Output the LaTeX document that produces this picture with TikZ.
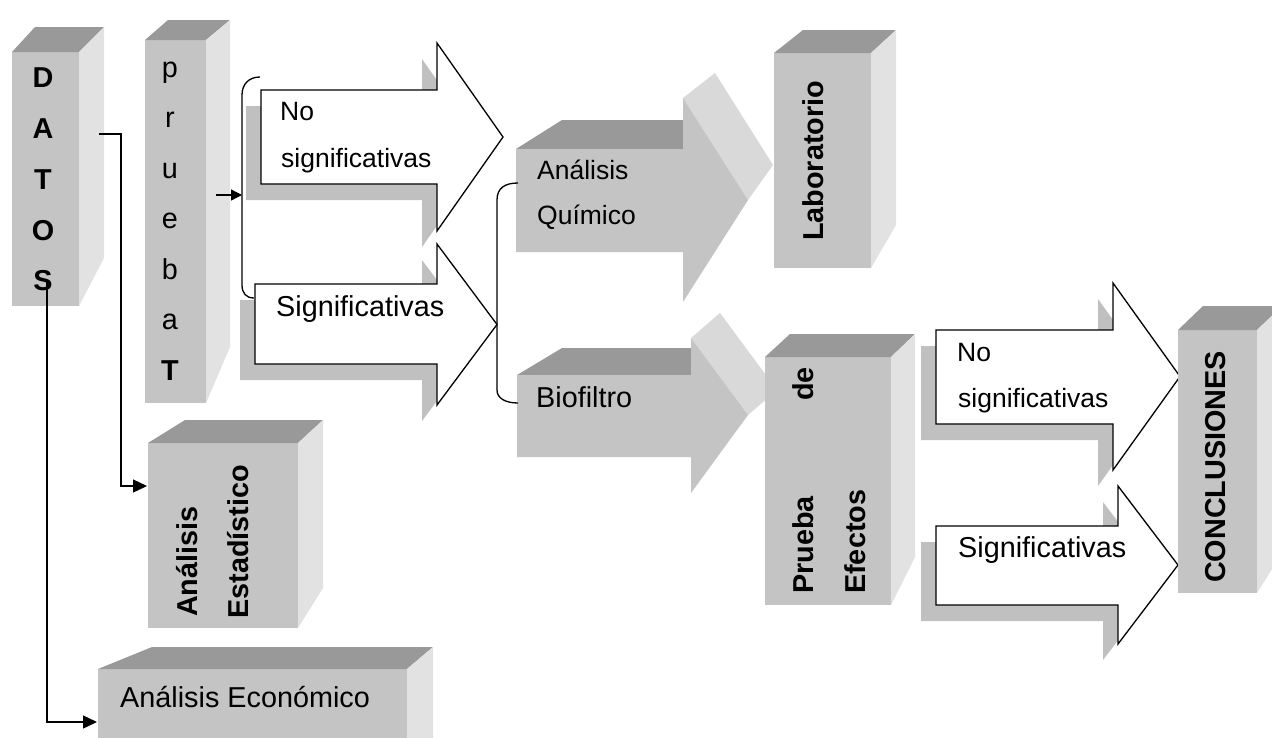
\documentclass[tikz,border=0pt]{standalone}
\usepackage{fontspec}
\setmainfont{Liberation Sans}
\usetikzlibrary{arrows.meta}
\definecolor{frontc}{HTML}{C4C4C4}
\definecolor{topc}{HTML}{999999}
\definecolor{sidec}{HTML}{E2E2E2}
\definecolor{headc}{HTML}{D9D9D9}
\definecolor{shadc}{HTML}{C0C0C0}
% #1 x1, #2 y1, #3 x2, #4 y2, #5 back-left x, #6 back-right x, #7 back y, #8 side bottom y
\newcommand{\tdbox}[8]{%
  \fill[frontc] (#1,#2) rectangle (#3,#4);
  \fill[topc] (#1,#2) -- (#5,#7) -- (#6,#7) -- (#3,#2) -- cycle;
  \fill[sidec] (#3,#2) -- (#6,#7) -- (#6,#8) -- (#3,#4) -- cycle;
}
% white block arrow with shadow: #1 body left, #2 body top, #3 body bottom, #4 head x, #5 head top, #6 head bottom, #7 tip x
\newcommand{\wharrow}[7]{%
  \fill[shadc,shift={(-15,16)}] (#1,#2) -- (#4,#2) -- (#4,#5) -- (#7,{(#5+#6)/2}) -- (#4,#6) -- (#4,#3) -- (#1,#3) -- cycle;
  \filldraw[fill=white,draw=black,line width=1.3pt,line join=miter] (#1,#2) -- (#4,#2) -- (#4,#5) -- (#7,{(#5+#6)/2}) -- (#4,#6) -- (#4,#3) -- (#1,#3) -- cycle;
}
\tikzset{
  lbl/.style={inner sep=0pt, font=\fontsize{28.8}{34}\selectfont},
  lbls/.style={inner sep=0pt, font=\fontsize{26.5}{32}\selectfont},
  lblb/.style={inner sep=0pt, font=\fontsize{28.8}{34}\selectfont\bfseries},
  conn/.style={line width=1.3pt},
  tip/.style={-{Triangle[length=14pt,width=13pt]}},
  tipsm/.style={-{Triangle[length=11pt,width=11pt]}},
}
\begin{document}
\begin{tikzpicture}[x=1pt,y=-1pt]
\useasboundingbox (0,0) rectangle (1272,737);
\fill[white] (0,0) rectangle (1272,737);
\clip (0,0) rectangle (1272,737);

% DATOS and prueba T boxes
\tdbox{12}{52}{79}{306}{35}{104}{27}{258}
\tdbox{145}{40}{206}{403}{168}{230}{20}{347}

% left white arrows
\wharrow{261}{90}{184}{437}{43}{231}{503}
\wharrow{255}{284}{364}{437}{244}{405}{497}

% gray 3D arrow: Analisis Quimico
\fill[topc] (516,149) -- (562,120) -- (683,120) -- (683,149) -- cycle;
\fill[headc] (683,98) -- (715,73) -- (773,165) -- (748,200) -- cycle;
\fill[frontc] (516,149) -- (683,149) -- (683,98) -- (748,200) -- (683,302) -- (683,252) -- (516,252) -- cycle;

% gray 3D arrow: Biofiltro
\fill[topc] (517,375) -- (562,348) -- (691,348) -- (691,375) -- cycle;
\fill[headc] (691,338) -- (720,313) -- (777,390) -- (748,415) -- cycle;
\fill[frontc] (517,375) -- (691,375) -- (691,338) -- (748,415) -- (691,493) -- (691,457) -- (517,457) -- cycle;

% Laboratorio, Prueba de Efectos
\tdbox{774}{53}{871}{268}{803}{896}{30}{225}
\tdbox{765}{357}{891}{605}{790}{915}{334}{557}

% Analisis Estadistico, Analisis Economico
\tdbox{148}{443}{298}{628}{185}{323}{420}{588}
\tdbox{98}{669}{407}{760}{152}{433}{647}{745}

% right white arrows
\wharrow{936}{330}{424}{1113}{283}{470}{1180}
\wharrow{936}{526}{605}{1118}{486}{644}{1178}

% CONCLUSIONES
\tdbox{1178}{330}{1257}{593}{1203}{1282}{306}{553}

% coordinates for connectors
\coordinate (b1top) at (260,77);
\coordinate (b1bot) at (254,298);
\coordinate (b1mid) at (242,195);
\coordinate (pruebaOut) at (216,195);
\coordinate (b2top) at (518,183);
\coordinate (b2bot) at (518,403);
\coordinate (datosOut) at (99,134);
\coordinate (estIn) at (147,486);
\coordinate (datosS) at (47,280);
\coordinate (ecoIn) at (97,722);

% braces
\draw[conn] (b1top) .. controls (249,77) and (242,84) .. (242,95) -- (242,285) .. controls (242,293) and (246,298) .. (b1bot);
\draw[conn] (b2top) .. controls (505,183) and (497,188) .. (497,200) -- (497,390) .. controls (497,398) and (505,403) .. (b2bot);

% connectors
\draw[conn,tipsm] (pruebaOut) -- (b1mid);
\draw[conn,tip] (datosOut) -- ++(22,0) |- (estIn);
\draw[conn,tip] (datosS) |- (ecoIn);

% DATOS letters
\node[lblb,anchor=base] (dD) at (43,87) {D};
\node[lblb,anchor=base] (dA) at (43,138) {A};
\node[lblb,anchor=base] (dT) at (43,189) {T};
\node[lblb,anchor=base] (dO) at (43,240) {O};
\node[lblb,anchor=base] (dS) at (43,290) {S};

% prueba T letters
\node[lbl,anchor=base] (p1) at (170,77) {p};
\node[lbl,anchor=base] (p2) at (170,127.5) {r};
\node[lbl,anchor=base] (p3) at (170,178) {u};
\node[lbl,anchor=base] (p4) at (170,228.5) {e};
\node[lbl,anchor=base] (p5) at (170,279) {b};
\node[lbl,anchor=base] (p6) at (170,329.5) {a};
\node[lblb,anchor=base] (p7) at (170,380) {T};

% arrow texts
\node[lbls,anchor=base west] (ns1a) at (280,120) {No};
\node[lbls,anchor=base west] (ns1b) at (281,167) {significativas};
\node[lbl,anchor=base west] (s1) at (276,316) {Significativas};
\node[lbls,anchor=base west] (aq1) at (537,179) {Análisis};
\node[lbls,anchor=base west] (aq2) at (537,224) {Químico};
\node[lbl,anchor=base west] (bio) at (536,407) {Biofiltro};
\node[lbls,anchor=base west] (ns2a) at (957,361) {No};
\node[lbls,anchor=base west] (ns2b) at (958,407) {significativas};
\node[lbl,anchor=base west] (s2) at (958,557) {Significativas};
\node[lbl,anchor=base west] (eco) at (120,707) {Análisis Económico};

% rotated texts
\node[lblb,rotate=90,anchor=base west] (lab) at (823,241) {Laboratorio};
\node[lblb,rotate=90,anchor=base west] (conc) at (1225,583) {CONCLUSIONES};
\node[lblb,rotate=90,anchor=base west] (est1) at (197,617) {Análisis};
\node[lblb,rotate=90,anchor=base west] (est2) at (248,619) {Estadístico};
\node[lblb,rotate=90,anchor=base west] (pe1) at (813,594) {Prueba};
\node[lblb,rotate=90,anchor=base east] (pe2) at (813,367) {de};
\node[lblb,rotate=90,anchor=base west] (pe3) at (865,594) {Efectos};
\end{tikzpicture}
\end{document}
